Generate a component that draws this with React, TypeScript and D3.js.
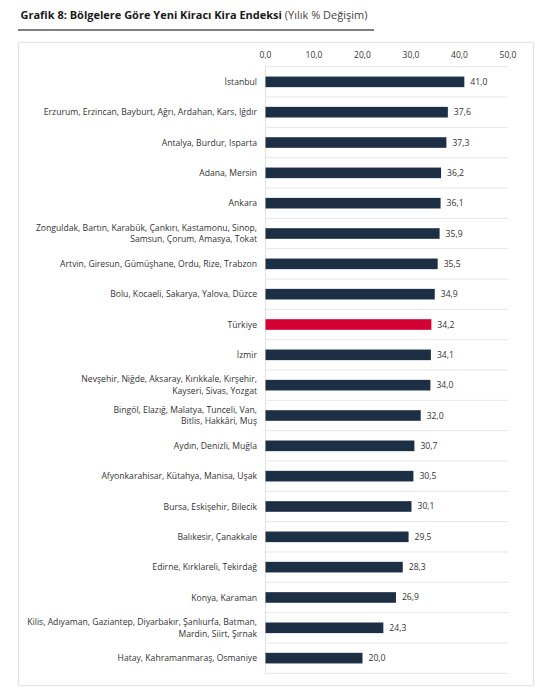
import React, { useEffect, useRef } from 'react';
import * as d3 from 'd3';

// Bölgeler (multi-line labels split with \n)
const regions = [
  'İstanbul',
  'Erzurum, Erzincan, Bayburt, Ağrı, Ardahan, Kars, Iğdır',
  'Antalya, Burdur, Isparta',
  'Adana, Mersin',
  'Ankara',
  'Zonguldak, Bartın, Karabük, Çankırı, Kastamonu, Sinop,\nSamsun, Çorum, Amasya, Tokat',
  'Artvin, Giresun, Gümüşhane, Ordu, Rize, Trabzon',
  'Bolu, Kocaeli, Sakarya, Yalova, Düzce',
  'Türkiye',
  'İzmir',
  'Nevşehir, Niğde, Aksaray, Kırıkkale, Kırşehir,\nKayseri, Sivas, Yozgat',
  'Bingöl, Elazığ, Malatya, Tunceli, Van,\nBitlis, Hakkâri, Muş',
  'Aydın, Denizli, Muğla',
  'Afyonkarahisar, Kütahya, Manisa, Uşak',
  'Bursa, Eskişehir, Bilecik',
  'Balıkesir, Çanakkale',
  'Edirne, Kırklareli, Tekirdağ',
  'Konya, Karaman',
  'Kilis, Adıyaman, Gaziantep, Diyarbakır, Şanlıurfa, Batman,\nMardin, Siirt, Şırnak',
  'Hatay, Kahramanmaraş, Osmaniye',
];

const changes = [41.0, 37.6, 37.3, 36.2, 36.1, 35.9, 35.5, 34.9, 34.2, 34.1, 34.0, 32.0, 30.7, 30.5, 30.1, 29.5, 28.3, 26.9, 24.3, 20.0];

const xTicks = [0, 10, 20, 30, 40, 50];

const highlight = 'Türkiye';

const FONT = '"Open Sans", "Noto Sans", sans-serif';
const fmt = (v: number) => v.toFixed(1).replace('.', ',');

export default function App() {
  const svgRef = useRef<SVGSVGElement>(null);

  useEffect(() => {
    if (!svgRef.current) return;
    const svg = d3.select(svgRef.current);
    svg.selectAll('*').remove();

    const rows = regions.map((name, i) => ({ name, value: changes[i] }));

    // Title
    const title = svg.append('text')
      .attr('x', 20.5)
      .attr('y', 19)
      .attr('font-family', FONT)
      .attr('font-size', 11)
      .attr('fill', '#1a1a1a');
    title.append('tspan').attr('font-weight', 'bold').text('Grafik 8: Bölgelere Göre Yeni Kiracı Kira Endeksi');
    title.append('tspan').attr('fill', '#444').text(' (Yılık % Değişim)');

    svg.append('line')
      .attr('x1', 18).attr('x2', 374)
      .attr('y1', 30).attr('y2', 30)
      .attr('stroke', '#555').attr('stroke-width', 1.3);

    // Frame
    svg.append('rect')
      .attr('x', 18.5).attr('y', 42.5)
      .attr('width', 515).attr('height', 643)
      .attr('fill', '#fff')
      .attr('stroke', '#e4e4e4').attr('stroke-width', 1.2);

    const x = d3.scaleLinear().domain([0, 50]).range([265.5, 508]);
    const y = d3.scaleBand<string>().domain(regions).range([66.7, 673.3]).paddingInner(0.65).paddingOuter(0.325);
    const step = y.step();

    // Tick labels on top
    svg.append('g')
      .selectAll('text')
      .data(xTicks)
      .join('text')
      .attr('x', d => x(d))
      .attr('y', 58)
      .attr('text-anchor', 'middle')
      .attr('font-family', FONT)
      .attr('font-size', 8.5)
      .attr('fill', '#333')
      .text(d => fmt(d));

    // Horizontal separators between rows
    const gridY = d3.range(regions.length + 1).map(i => 66.7 + i * step);
    svg.append('g')
      .selectAll('line')
      .data(gridY)
      .join('line')
      .attr('x1', x(0)).attr('x2', x(50))
      .attr('y1', d => d).attr('y2', d => d)
      .attr('stroke', '#e6e6e6').attr('stroke-width', 1);

    // Axis line
    svg.append('line')
      .attr('x1', x(0)).attr('x2', x(0))
      .attr('y1', gridY[0]).attr('y2', gridY[gridY.length - 1])
      .attr('stroke', '#e0e0e0').attr('stroke-width', 1);

    // Bars
    svg.append('g')
      .selectAll('rect')
      .data(rows)
      .join('rect')
      .attr('x', x(0))
      .attr('y', d => y(d.name)!)
      .attr('width', d => x(d.value) - x(0))
      .attr('height', y.bandwidth())
      .attr('fill', d => d.name === highlight ? '#d50032' : '#1d2f45');

    // Value labels
    svg.append('g')
      .selectAll('text')
      .data(rows)
      .join('text')
      .attr('x', d => x(d.value) + 6)
      .attr('y', d => y(d.name)! + y.bandwidth() / 2)
      .attr('dy', '0.35em')
      .attr('font-family', FONT)
      .attr('font-size', 8.6)
      .attr('fill', '#333')
      .text(d => fmt(d.value));

    // Category labels (right aligned, may wrap)
    const labels = svg.append('g')
      .selectAll('text')
      .data(rows)
      .join('text')
      .attr('text-anchor', 'end')
      .attr('font-family', FONT)
      .attr('font-size', 8.65)
      .attr('fill', '#333');

    labels.each(function (d) {
      const lines = d.name.split('\n');
      const cy = y(d.name)! + y.bandwidth() / 2;
      const lh = 11.8;
      const t = d3.select(this);
      lines.forEach((ln, i) => {
        t.append('tspan')
          .attr('x', 257)
          .attr('y', cy + (i - (lines.length - 1) / 2) * lh)
          .attr('dy', '0.35em')
          .text(ln);
      });
    });
  }, []);

  return (
    <svg
      ref={svgRef}
      width={554}
      height={700}
      style={{ position: 'absolute', left: 0, top: 0, background: '#fff' }}
    />
  );
}
